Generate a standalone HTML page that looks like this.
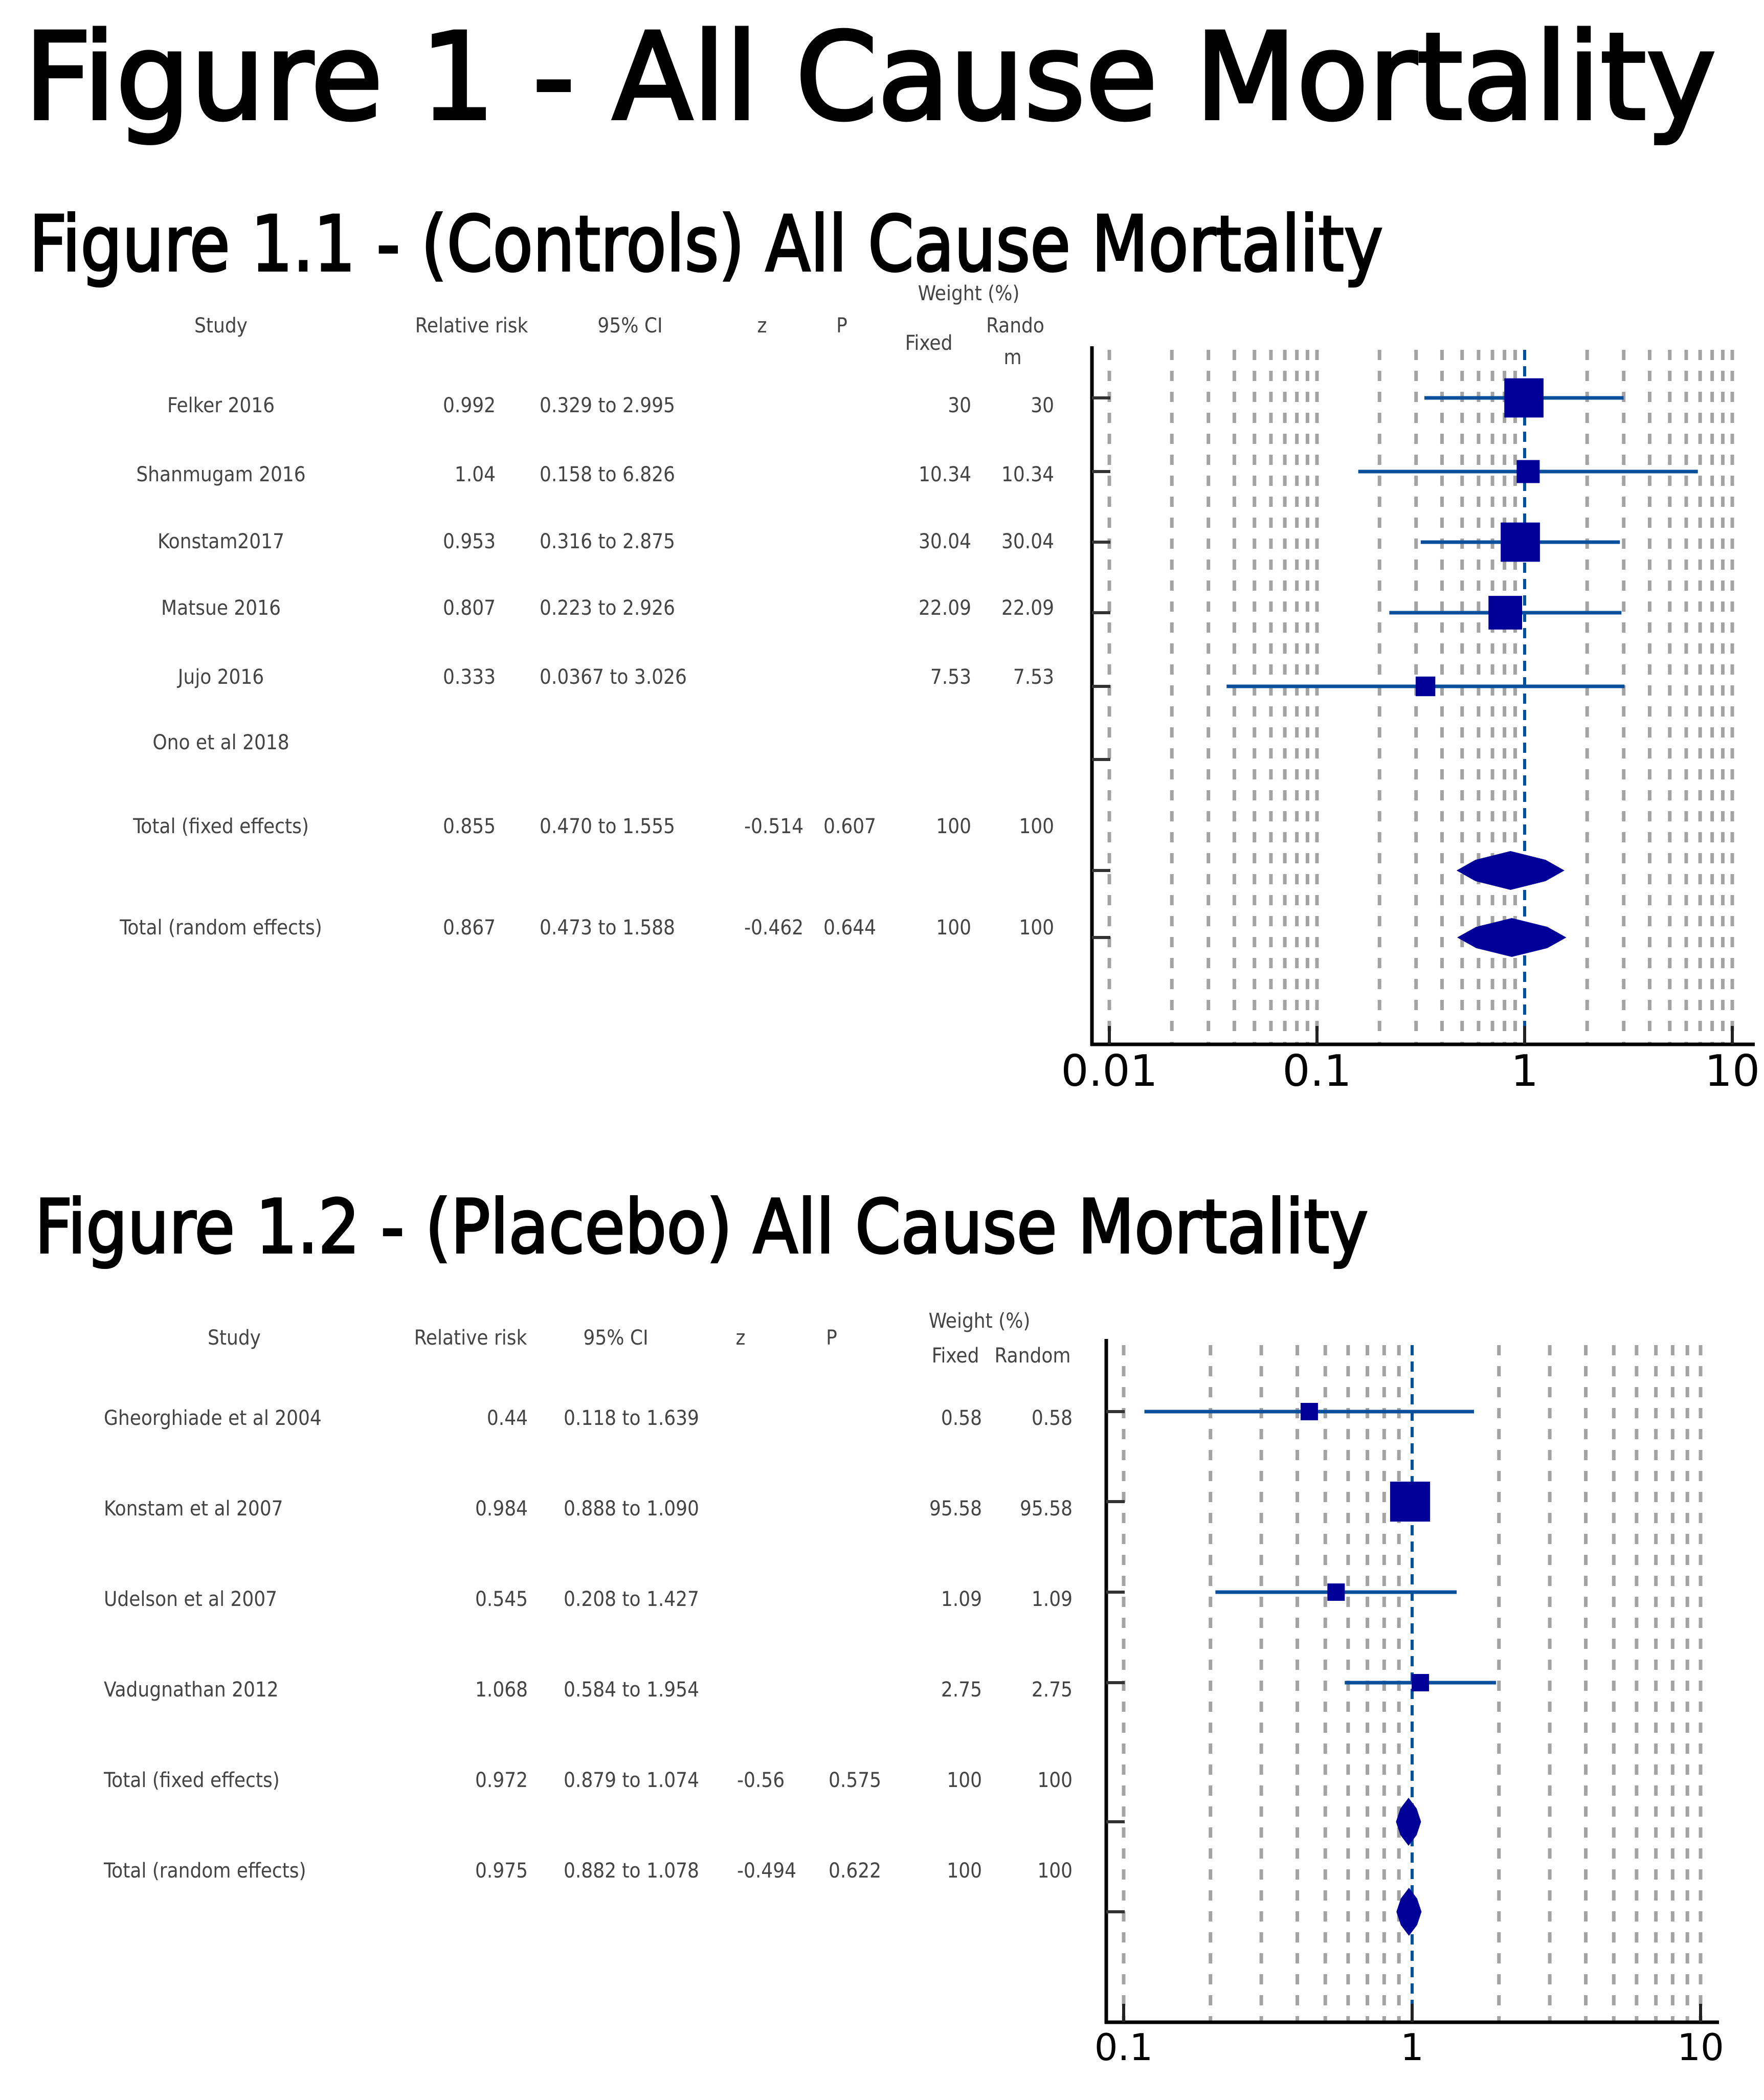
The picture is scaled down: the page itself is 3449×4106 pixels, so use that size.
<!DOCTYPE html>
<html><head><meta charset="utf-8"><style>
html,body{margin:0;padding:0;background:#fff;}
svg{display:block;}
.t{font-family:"DejaVu Sans","Liberation Sans",sans-serif;fill:#000;}
.h{font-family:"DejaVu Sans","Liberation Sans",sans-serif;fill:#000;stroke:#000;}
.s{font-family:"DejaVu Sans Condensed","DejaVu Sans","Liberation Sans",sans-serif;fill:#444;}
</style></head><body>
<svg id="fig" width="3449" height="4106" viewBox="0 0 3449 4106" xmlns="http://www.w3.org/2000/svg">
<text class="h" x="47" y="232" font-size="235" stroke-width="6" textLength="3308" lengthAdjust="spacingAndGlyphs">Figure 1 - All Cause Mortality</text>
<text class="h" x="57" y="529" font-size="150" stroke-width="4" textLength="2647" lengthAdjust="spacingAndGlyphs">Figure 1.1 - (Controls) All Cause Mortality</text>
<text class="h" x="68" y="2449" font-size="145" stroke-width="4" textLength="2607" lengthAdjust="spacingAndGlyphs">Figure 1.2 - (Placebo) All Cause Mortality</text>
<g id="g1"></g>
<g id="g2"></g>
</svg>
<script>
// ---- Chart 1 data (Controls)
const studies1 = ["Felker 2016","Shanmugam 2016","Konstam2017","Matsue 2016","Jujo 2016","Ono et al 2018","Total (fixed effects)","Total (random effects)"];
const rr1 = [0.992,1.04,0.953,0.807,0.333,null,0.855,0.867];
const lo1 = [0.329,0.158,0.316,0.223,0.0367,null,0.470,0.473];
const hi1 = [2.995,6.826,2.875,2.926,3.026,null,1.555,1.588];
const ciLabels1 = ["0.329 to 2.995","0.158 to 6.826","0.316 to 2.875","0.223 to 2.926","0.0367 to 3.026","","0.470 to 1.555","0.473 to 1.588"];
const z1 = ["","","","","","","-0.514","-0.462"];
const p1 = ["","","","","","","0.607","0.644"];
const wf1 = [30,10.34,30.04,22.09,7.53,null,100,100];
const wr1 = [30,10.34,30.04,22.09,7.53,null,100,100];
const isTotal1 = [0,0,0,0,0,0,1,1];
const ticks1 = [0.01,0.1,1,10];
const tickLabels1 = ["0.01","0.1","1","10"];
// ---- Chart 2 data (Placebo)
const studies2 = ["Gheorghiade et al 2004","Konstam et al 2007","Udelson et al 2007","Vadugnathan 2012","Total (fixed effects)","Total (random effects)"];
const rr2 = [0.44,0.984,0.545,1.068,0.972,0.975];
const lo2 = [0.118,0.888,0.208,0.584,0.879,0.882];
const hi2 = [1.639,1.090,1.427,1.954,1.074,1.078];
const ciLabels2 = ["0.118 to 1.639","0.888 to 1.090","0.208 to 1.427","0.584 to 1.954","0.879 to 1.074","0.882 to 1.078"];
const z2 = ["","","","","-0.56","-0.494"];
const p2 = ["","","","","0.575","0.622"];
const wf2 = [0.58,95.58,1.09,2.75,100,100];
const wr2 = [0.58,95.58,1.09,2.75,100,100];
const isTotal2 = [0,0,0,0,1,1];
const ticks2 = [0.1,1,10];
const tickLabels2 = ["0.1","1","10"];

const NS="http://www.w3.org/2000/svg";
function mk(parent,tag,attrs,text){const e=document.createElementNS(NS,tag);for(const k in attrs)e.setAttribute(k,attrs[k]);if(text!==undefined)e.textContent=text;parent.appendChild(e);return e;}
function fmtW(v){return v===null?"":String(v);}

function drawChart(g,cfg){
  const {studies,rr,lo,hi,ciLabels,z,p,wf,wr,isTotal,ticks,tickLabels,L}=cfg;
  const x=v=>L.x1+(Math.log10(v)-Math.log10(L.dmin))*L.dec;
  const y=i=>L.rowY[i];
  const hdr=[["Study",L.hStudy,L.hy],["Relative risk",L.hRR,L.hy],["95% CI",L.hCI,L.hy],["z",L.hZ,L.hy],["P",L.hP,L.hy],["Weight (%)",L.hW[0],L.hW[1]],["Fixed",L.hF[0],L.hF[1]]].concat(L.hR);
  for(const h of hdr){const t=mk(g,'text',{class:'s',x:h[1],y:h[2],'font-size':L.fs,'text-anchor':'middle'},h[0]);
    
    }
  const grid=[];
  for(let d=Math.log10(L.dmin);d<Math.log10(L.dmax)-1e-9;d++){for(let k=1;k<10;k++)grid.push(k*Math.pow(10,d));}
  grid.push(L.dmax);
  for(const v of grid){if(Math.abs(v-1)<1e-9)continue;
    const ln=mk(g,'line',{x1:x(v),x2:x(v),y1:L.gTop,y2:L.axY,stroke:'#a3a3a3','stroke-width':7,'stroke-dasharray':'20 21'});
    
    }
  const ref=mk(g,'line',{x1:x(1),x2:x(1),y1:L.gTop,y2:L.axY,stroke:'#0050a0','stroke-width':6,'stroke-dasharray':'20 12'});
  
  
  const ya=mk(g,'line',{x1:L.axX,x2:L.axX,y1:L.axTop,y2:L.axY+3,stroke:'#000','stroke-width':7});
  
  
  const xa=mk(g,'line',{x1:L.axX-3,x2:L.axEnd,y1:L.axY,y2:L.axY,stroke:'#000','stroke-width':7});
  
  
  for(let i=0;i<ticks.length;i++){
    mk(g,'line',{x1:x(ticks[i]),x2:x(ticks[i]),y1:L.axY-36,y2:L.axY,stroke:'#222','stroke-width':6});
    const t=mk(g,'text',{class:'t',x:x(ticks[i]),y:L.tlY,'font-size':L.tfs,'text-anchor':'middle'},tickLabels[i]);
    
    
  }
  for(let i=0;i<studies.length;i++){
    const ty=L.textY[i];
    const nm=mk(g,'text',{class:'s',x:L.cStudy,y:ty,'font-size':L.fs,'text-anchor':L.studyAnchor},studies[i]);
    
    
    if(rr[i]!==null){
      const a=mk(g,'text',{class:'s',x:L.cRR,y:ty,'font-size':L.fs,'text-anchor':'end'},String(rr[i]));
      
      
      const b=mk(g,'text',{class:'s',x:L.cCI,y:ty,'font-size':L.fs},ciLabels[i]);
      
      
      if(z[i]){const c=mk(g,'text',{class:'s',x:L.cZ,y:ty,'font-size':L.fs,'text-anchor':L.zAnchor},z[i]);
        
        }
      if(p[i]){const c=mk(g,'text',{class:'s',x:L.cP,y:ty,'font-size':L.fs},p[i]);
        
        }
      const f=mk(g,'text',{class:'s',x:L.cF,y:ty,'font-size':L.fs,'text-anchor':'end'},fmtW(wf[i]));
      
      
      const r=mk(g,'text',{class:'s',x:L.cR,y:ty,'font-size':L.fs,'text-anchor':'end'},fmtW(wr[i]));
      
      
    }
    mk(g,'line',{x1:L.axX,x2:L.axX+36,y1:y(i),y2:y(i),stroke:'#333','stroke-width':6});
    if(rr[i]===null)continue;
    if(isTotal[i]){
      const h=L.dh/2, lx=x(lo[i]), hx=x(hi[i]), cx=x(rr[i]);
      const d=mk(g,'polygon',{points:`${lx},${y(i)} ${lx+(cx-lx)*0.35},${y(i)-h*0.55} ${cx},${y(i)-h} ${cx+(hx-cx)*0.65},${y(i)-h*0.55} ${hx},${y(i)} ${cx+(hx-cx)*0.65},${y(i)+h*0.55} ${cx},${y(i)+h} ${lx+(cx-lx)*0.35},${y(i)+h*0.55}`,fill:'#000099'});
      
      
    } else {
      const ci=mk(g,'line',{x1:x(lo[i]),x2:x(hi[i]),y1:y(i),y2:y(i),stroke:'#0a4f9c','stroke-width':7});
      
      
      const s=Math.max(L.minSq,L.sqK*Math.sqrt(wf[i]));
      const sq=mk(g,'rect',{x:x(rr[i])-s/2,y:y(i)-s/2,width:s,height:s,fill:'#000099'});
      
      
    }
  }
}

drawChart(document.getElementById('g1'),{studies:studies1,rr:rr1,lo:lo1,hi:hi1,ciLabels:ciLabels1,z:z1,p:p1,wf:wf1,wr:wr1,isTotal:isTotal1,ticks:ticks1,tickLabels:tickLabels1,
 L:{x1:2169,dmin:0.01,dmax:10,dec:406,rowY:[778,922,1060,1198,1342,1485,1702,1833],
  textY:[806,941,1072,1202,1337,1465,1629,1827],gTop:684,axTop:677,axY:2042,axX:2135,axEnd:3431,tlY:2123,tfs:85,fs:40,
  hStudy:432,hRR:922,hCI:1232,hZ:1490,hP:1646,hy:650,hW:[1894,587],hF:[1816,684],hR:[["Rando",1985,650],["m",1980,712]],
  cStudy:432,studyAnchor:'middle',cRR:969,cCI:1055,cZ:1571,zAnchor:'end',cP:1610,cF:1899,cR:2061,dh:76,sqK:14,minSq:30}});

drawChart(document.getElementById('g2'),{studies:studies2,rr:rr2,lo:lo2,hi:hi2,ciLabels:ciLabels2,z:z2,p:p2,wf:wf2,wr:wr2,isTotal:isTotal2,ticks:ticks2,tickLabels:tickLabels2,
 L:{x1:2197,dmin:0.1,dmax:10,dec:564,rowY:[2760,2936,3113,3290,3562,3738],
  textY:[2786,2963,3140,3317,3494,3671],gTop:2630,axTop:2618,axY:3954,axX:2163,axEnd:3361,tlY:4028,tfs:72,fs:40,
  hStudy:458,hRR:920,hCI:1204,hZ:1448,hP:1626,hy:2629,hW:[1915,2596],hF:[1868,2664],hR:[["Random",2019,2664]],
  cStudy:203,studyAnchor:'start',cRR:1032,cCI:1102,cZ:1441,zAnchor:'start',cP:1620,cF:1920,cR:2097,dh:94,sqK:8,minSq:34}});
</script>
</body></html>
